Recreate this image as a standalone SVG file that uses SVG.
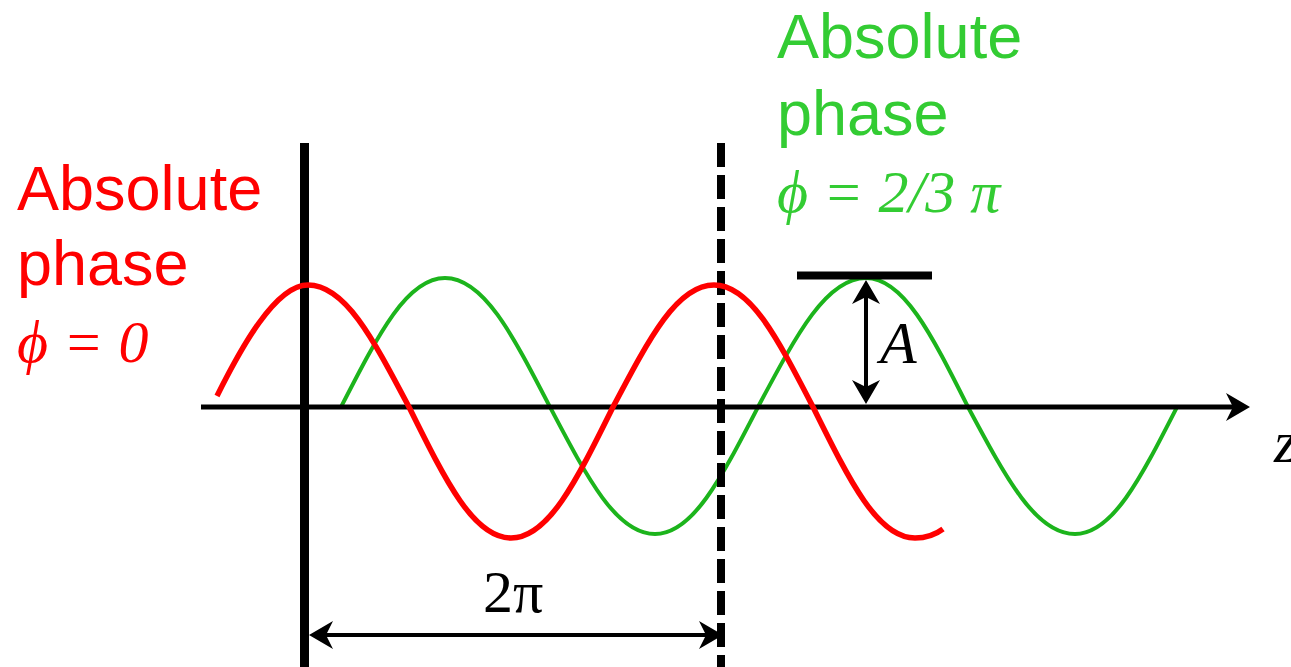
<svg xmlns="http://www.w3.org/2000/svg" width="1291" height="667" viewBox="0 0 1291 667">
  <style>
    .sans { font-family: "Liberation Sans", Arial, sans-serif; font-size: 63px; }
    .math { font-family: "Liberation Serif", "DejaVu Serif", "Times New Roman", serif; font-size: 60px; font-style: italic; }
    .upr { font-family: "Liberation Serif", "Times New Roman", serif; font-size: 60px; }
    .red { fill: #ff0000; }
    .grn { fill: #33cc33; }
    .blk { fill: #000000; }
    .ln { stroke: #000; fill: none; stroke-linecap: butt; }
    .wave { fill: none; stroke-linejoin: round; stroke-linecap: butt; }
  </style>
  <defs>
    <marker id="ah" viewBox="-8 -15 26 30" refX="0" refY="0" markerWidth="26" markerHeight="30" markerUnits="userSpaceOnUse" orient="auto-start-reverse">
      <path d="M17,0 L-7,-14 L0,0 L-7,14 Z" fill="#000"/>
    </marker>
  </defs>
  <rect x="0" y="0" width="1291" height="667" fill="#ffffff"/>

  <g id="green-wave">
    <path class="wave" stroke="#1cb41c" stroke-width="4" d="M341,407 C378.9,333.2 407.1,278 445,278 C483.3,278 511.8,333.2 550,407 C588.2,479.7 616.7,534 655,534 C692.5,534 720.5,479.7 758,407 C797.3,333.2 826.6,278 866,278 C903.2,278 930.9,333.2 968,407 C1007,479.7 1036,534 1075,534 C1112.2,534 1139.9,479.7 1177,407"/>
  </g>

  <g id="reference-lines">
    <line class="ln" x1="304.5" y1="143" x2="304.5" y2="667" stroke-width="9"/>
    <line class="ln" x1="721" y1="143" x2="721" y2="667" stroke-width="8" stroke-dasharray="24 8"/>
    <line class="ln" x1="797" y1="275.5" x2="932" y2="275.5" stroke-width="8"/>
  </g>

  <g id="connectors">
    <line id="z-axis" class="ln" x1="201" y1="407" x2="1233" y2="407" stroke-width="5" marker-end="url(#ah)"/>
    <line id="amp-arrow" class="ln" x1="866" y1="297" x2="866" y2="387" stroke-width="4" marker-start="url(#ah)" marker-end="url(#ah)"/>
    <line id="period-arrow" class="ln" x1="326" y1="635" x2="706" y2="635" stroke-width="4" marker-start="url(#ah)" marker-end="url(#ah)"/>
  </g>

  <g id="red-wave">
    <path class="wave" stroke="#ff0000" stroke-width="5.5" d="M217,396 C240,350 275,285 308,285 C344.8,285 372.2,337.2 409,407 C446.1,481.9 473.8,538 511,538 C548.2,538 575.9,481.9 613,407 C649.8,337.2 677.2,285 714,285 C750.1,285 776.9,337.2 813,407 C850.1,481.9 877.8,538 915,538 C927,538 935,535 943,529"/>
  </g>

  <g id="label-red">
    <text class="sans red" x="17" y="210">Absolute</text>
    <text class="sans red" x="17" y="285">phase</text>
    <text class="math red" x="17" y="362">ϕ = 0</text>
  </g>

  <g id="label-green">
    <text class="sans grn" x="777" y="58">Absolute</text>
    <text class="sans grn" x="777" y="135">phase</text>
    <text class="math grn" x="777" y="212">ϕ = 2/3 π</text>
  </g>

  <g id="label-A">
    <text class="math blk" x="880" y="363">A</text>
  </g>
  <g id="label-z">
    <text class="math blk" x="1274" y="462">z</text>
  </g>
  <g id="label-2pi">
    <text class="upr blk" x="483" y="612">2π</text>
  </g>
</svg>
